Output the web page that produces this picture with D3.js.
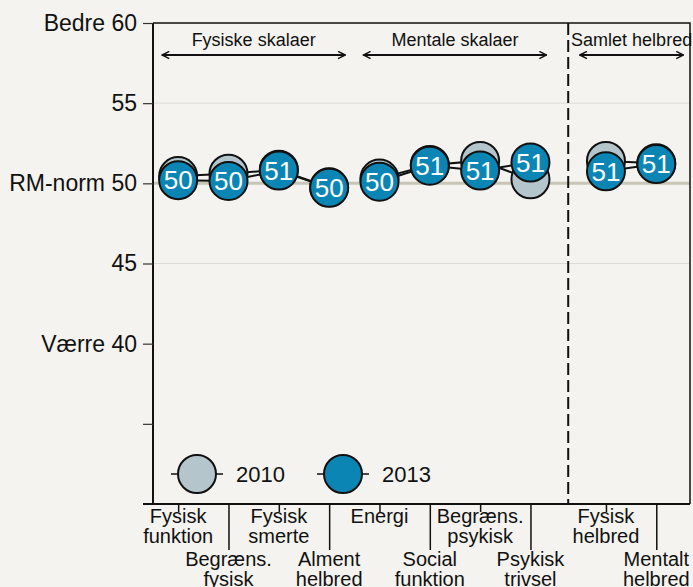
<!DOCTYPE html>
<html>
<head>
<meta charset="utf-8">
<script src="https://cdn.jsdelivr.net/npm/d3@7"></script>
<style>
  body { margin: 0; background: #f4f3ef; }
  svg { display: block; font-family: "Liberation Sans", Arial, Helvetica, sans-serif; }
</style>
</head>
<body>
<div id="canvas"></div>
<script>
// chart data
const categories = [
    ['Fysisk', 'funktion'], ['Begræns.', 'fysisk'], ['Fysisk', 'smerte'], ['Alment', 'helbred'],
    ['Energi'], ['Social', 'funktion'], ['Begræns.', 'psykisk'], ['Psykisk', 'trivsel'],
    ['Fysisk', 'helbred'], ['Mentalt', 'helbred']
];
const positions = [1, 2, 3, 4, 5, 6, 7, 8, 9.5, 10.5];
const groupOf = [0, 0, 0, 0, 1, 1, 1, 1, 2, 2];
const values2010 = [50.45, 50.6, 50.85, 49.75, 50.3, 51.15, 51.4, 50.25, 51.4, 51.25];
const values2013 = [50.2, 50.15, 50.8, 49.72, 50.1, 51.1, 50.8, 51.3, 50.75, 51.2];
const years = ['2010', '2013'];

const groupNames = ['Fysiske skalaer', 'Mentale skalaer', 'Samlet helbred'];
const groupSpans = [[0.68, 4.32], [4.68, 8.32], [8.98, 11.04]];
const dividerAt = 8.75;

const yTicks = [60, 55, 50, 45, 40, 35];
const yTickLabels = ['Bedre 60', '55', 'RM-norm 50', '45', 'Værre 40', ''];
const yGrid = [55, 45];
const yNorm = 50;

const width = 693, height = 587;
const margin = { top: 23, right: 3, bottom: 83, left: 153 };
const colors = { '2010': '#b4c5cc', '2013': '#0b86b4' };

const svg = d3.select('#canvas').append('svg')
    .attr('width', width).attr('height', height)
    .style('background-color', '#f4f3ef');

const x = d3.scaleLinear().domain([0.5, 11.17]).range([margin.left, width - margin.right]);
const y = d3.scaleLinear().domain([30, 60]).range([height - margin.bottom, margin.top]);

// grid + norm line
svg.selectAll('.grid').data(yGrid).enter().append('line')
    .attr('x1', x.range()[0]).attr('x2', x.range()[1])
    .attr('y1', d => y(d)).attr('y2', d => y(d))
    .attr('stroke', '#dedbd4').attr('stroke-width', 1);
svg.append('line')
    .attr('x1', x.range()[0]).attr('x2', x.range()[1])
    .attr('y1', y(yNorm)).attr('y2', y(yNorm))
    .attr('stroke', '#c8c4b6').attr('stroke-width', 3);

// frame top/right
svg.append('path')
    .attr('d', `M${x.range()[0]},${y(60)}H${x.range()[1]}V${y(30)}`)
    .attr('fill', 'none').attr('stroke', '#111').attr('stroke-width', 1.5);

// divider
svg.append('line')
    .attr('x1', x(dividerAt)).attr('x2', x(dividerAt))
    .attr('y1', y(60)).attr('y2', y(30))
    .attr('stroke', '#111').attr('stroke-width', 2)
    .attr('stroke-dasharray', '12,5');

// y axis
const yAxis = svg.append('g')
    .attr('transform', `translate(${margin.left},0)`)
    .call(d3.axisLeft(y).tickValues(yTicks).tickFormat((d, i) => yTickLabels[i]).tickSize(10).tickPadding(6));
yAxis.select('.domain').attr('stroke', '#111').attr('stroke-width', 2).attr('d', `M0,${y(60)}V${y(30)}`);
yAxis.selectAll('.tick line').attr('stroke', '#333').attr('stroke-width', 1.2);
yAxis.selectAll('.tick text').attr('font-size', 23).attr('fill', '#111').attr('font-family', null);

// x axis: two tick lengths
const xBase = y(30);
svg.append('line')
    .attr('x1', margin.left - 10).attr('x2', x.range()[1])
    .attr('y1', xBase).attr('y2', xBase)
    .attr('stroke', '#111').attr('stroke-width', 2);

const upper = positions.filter((d, i) => i % 2 === 0);
const lower = positions.filter((d, i) => i % 2 === 1);
[[upper, 8], [lower, 46]].forEach(([vals, len]) => {
    const ax = svg.append('g')
        .attr('transform', `translate(0,${xBase})`)
        .call(d3.axisBottom(x).tickValues(vals).tickFormat('').tickSize(len));
    ax.select('.domain').remove();
    ax.selectAll('.tick line').attr('stroke', '#111').attr('stroke-width', 1.5);
});

const xLabels = svg.selectAll('.xlab').data(categories).enter().append('text')
    .attr('text-anchor', 'middle')
    .attr('font-size', 20)
    .attr('fill', '#111');
xLabels.each(function(lines, i) {
    const base = i % 2 === 0 ? xBase + 19 : xBase + 62;
    d3.select(this).selectAll('tspan').data(lines).enter().append('tspan')
        .attr('x', x(positions[i]))
        .attr('y', (d, j) => base + j * 20)
        .text(d => d);
});

// group annotations
const defs = svg.append('defs');
defs.append('marker')
    .attr('id', 'head').attr('viewBox', '0 0 10 10')
    .attr('refX', 9).attr('refY', 5)
    .attr('markerWidth', 9).attr('markerHeight', 9)
    .attr('markerUnits', 'userSpaceOnUse')
    .attr('orient', 'auto-start-reverse')
    .append('path').attr('d', 'M1,1L9,5L1,9')
    .attr('fill', 'none').attr('stroke', '#111').attr('stroke-width', 1.6);

groupSpans.forEach((s, i) => {
    svg.append('line')
        .attr('x1', x(s[0])).attr('x2', x(s[1]))
        .attr('y1', 55).attr('y2', 55)
        .attr('stroke', '#111').attr('stroke-width', 2)
        .attr('marker-start', 'url(#head)').attr('marker-end', 'url(#head)');
    svg.append('text')
        .attr('x', x((s[0] + s[1]) / 2)).attr('y', 46)
        .attr('text-anchor', 'middle').attr('font-size', 18).attr('fill', '#111')
        .text(groupNames[i]);
});

// lines per group
const series = [values2010, values2013];
const line = d3.line().x(d => x(d.x)).y(d => y(d.v));
series.forEach(vals => {
    d3.range(3).forEach(g => {
        const pts = positions.map((p, i) => ({ x: p, v: vals[i], g: groupOf[i] })).filter(d => d.g === g);
        svg.append('path').datum(pts)
            .attr('d', line)
            .attr('fill', 'none').attr('stroke', '#111').attr('stroke-width', 2);
    });
});

// markers
const r = 19;
series.forEach((vals, s) => {
    svg.selectAll(`.m${s}`).data(vals).enter().append('circle')
        .attr('cx', (d, i) => x(positions[i]))
        .attr('cy', d => y(d))
        .attr('r', r)
        .attr('fill', colors[years[s]])
        .attr('stroke', '#111').attr('stroke-width', 2);
});
svg.selectAll('.mlab').data(values2013).enter().append('text')
    .attr('x', (d, i) => x(positions[i]))
    .attr('y', d => y(d))
    .attr('dy', '0.36em')
    .attr('text-anchor', 'middle')
    .attr('font-size', 26)
    .attr('fill', '#fff')
    .text(d => d3.format('.0f')(d));

// legend
const legend = svg.append('g').attr('transform', 'translate(197,474)');
years.forEach((yr, i) => {
    const lg = legend.append('g').attr('transform', `translate(${i * 146},0)`);
    lg.append('line').attr('x1', -26).attr('x2', 26)
        .attr('stroke', '#111').attr('stroke-width', 1.5);
    lg.append('circle').attr('r', r)
        .attr('fill', colors[yr]).attr('stroke', '#111').attr('stroke-width', 2);
    lg.append('text').attr('x', 39).attr('dy', '0.36em')
        .attr('font-size', 22).attr('fill', '#111').text(yr);
});
</script>
</body>
</html>
